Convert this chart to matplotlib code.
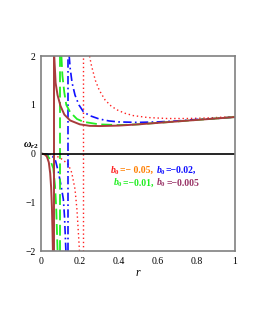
import matplotlib
matplotlib.use("Agg")
import matplotlib.pyplot as plt
from matplotlib.transforms import offset_copy

plt.rcParams["font.family"] = ["Liberation Serif", "DejaVu Serif"]
plt.rcParams["mathtext.fontset"] = "custom"
plt.rcParams["mathtext.it"] = "Liberation Serif:italic:bold"
plt.rcParams["mathtext.rm"] = "Liberation Serif:bold"

# b0 = -0.005 (solid, dark red)
r1_up = [0.068, 0.075, 0.085, 0.10, 0.12, 0.15, 0.2, 0.25, 0.3, 0.4, 0.5, 0.6, 0.7, 0.8, 0.9, 1.0]
w1_up = [2.0, 1.45, 1.2, 0.98, 0.8, 0.68, 0.6, 0.57, 0.565, 0.575, 0.6, 0.63, 0.66, 0.69, 0.72, 0.75]
r1_lo = [0, 0.01, 0.02, 0.03, 0.04, 0.047, 0.052, 0.056, 0.059, 0.061]
w1_lo = [0, -0.005, -0.02, -0.06, -0.18, -0.4, -0.7, -1.1, -1.6, -2.0]
r1_asym = 0.067

# b0 = -0.01 (dashed, green)
r2_up = [0.105, 0.11, 0.12, 0.13, 0.15, 0.185, 0.22, 0.3, 0.4, 0.5, 0.6, 0.7, 0.8, 0.9, 1.0]
w2_up = [2.0, 1.6, 1.25, 1.0, 0.85, 0.71, 0.65, 0.6, 0.585, 0.6, 0.63, 0.66, 0.69, 0.72, 0.75]
r2_lo = [0, 0.02, 0.035, 0.046, 0.063, 0.072, 0.078, 0.082, 0.085]
w2_lo = [0, -0.01, -0.05, -0.12, -0.3, -0.66, -1.1, -1.6, -2.0]
r2_asym = 0.098

# b0 = -0.02 (dash-dot, blue)
r3_up = [0.145, 0.15, 0.16, 0.175, 0.195, 0.218, 0.25, 0.3, 0.35, 0.4, 0.5, 0.6, 0.7, 0.8, 0.9, 1.0]
w3_up = [2.0, 1.75, 1.45, 1.2, 1.0, 0.86, 0.78, 0.71, 0.67, 0.65, 0.64, 0.65, 0.67, 0.70, 0.72, 0.75]
r3_lo = [0, 0.03, 0.06, 0.075, 0.09, 0.105, 0.115, 0.121, 0.125, 0.128]
w3_lo = [0, -0.01, -0.06, -0.15, -0.39, -0.7, -0.94, -1.3, -1.7, -2.0]
r3_asym = 0.137

# b0 = -0.05 (dotted, red)
r4_up = [0.25, 0.26, 0.28, 0.3, 0.33, 0.36, 0.39, 0.43, 0.475, 0.55, 0.65, 0.75, 0.85, 1.0]
w4_up = [2.0, 1.8, 1.5, 1.3, 1.1, 0.98, 0.9, 0.83, 0.78, 0.74, 0.72, 0.72, 0.73, 0.76]
r4_lo = [0, 0.04, 0.08, 0.11, 0.14, 0.158, 0.175, 0.185, 0.192, 0.198]
w4_lo = [0, -0.01, -0.05, -0.12, -0.22, -0.39, -0.73, -1.15, -1.6, -2.0]
r4_asym = 0.218

xticks = [0, 0.2, 0.4, 0.6, 0.8, 1]
xtick_labels = ["0", "0.2", "0.4", "0.6", "0.8", "1"]
yticks = [-2, -1, 0, 1, 2]

# legend text pieces (text, colour), two rows
row1 = [(r"$b_0$", "#ff2020"), ("=− 0.05, ", "#ff7f00"), (r"$b_0$", "#1010ff"), ("=−0.02,", "#1010ff")]
row2 = [(r"$b_0$", "#22ee22"), ("=−0.01, ", "#22ee22"), (r"$b_0$", "#993366"), ("=−0.005", "#993366")]

fig = plt.figure(figsize=(2.55, 3.3), dpi=100)
ax = fig.add_axes([0.161, 0.239, 0.761, 0.591])

curves = [
    (r4_up, w4_up, r4_lo, w4_lo, r4_asym, "#ff2020", (0, (1, 2)), 1.0),
    (r3_up, w3_up, r3_lo, w3_lo, r3_asym, "#1010ff", (0, (5, 2, 1, 2)), 1.2),
    (r2_up, w2_up, r2_lo, w2_lo, r2_asym, "#22ee22", (0, (6, 2.5)), 1.3),
    (r1_up, w1_up, r1_lo, w1_lo, r1_asym, "#a83c3c", "-", 1.4),
]
for ru, wu, rl, wl, ra, col, ls, lw in curves:
    ax.plot(ru, wu, color=col, ls=ls, lw=lw)
    ax.plot(rl, wl, color=col, ls=ls, lw=lw)
    ax.plot([ra, ra], [-2, 2], color=col, ls=ls, lw=lw)

ax.axhline(0, color="black", lw=1.2)
ax.set_xlim(0, 1)
ax.set_ylim(-2, 2)
ax.set_xticks(xticks)
ax.set_xticklabels(xtick_labels)
ax.set_yticks(yticks)
ax.tick_params(length=0, labelsize=7, pad=4)
for s in ax.spines.values():
    s.set_color("#808080")
    s.set_linewidth(1.2)

ax.set_xlabel("r", fontstyle="italic", fontsize=8.5, labelpad=1)
ax.text(-0.01, 0.12, r"$\omega_{r2}$", fontsize=7.5, ha="right", va="baseline", clip_on=False)

fs = 7
renderer = fig.canvas.get_renderer()
for row, (x0, y0) in [(row1, (0.356, -0.40)), (row2, (0.371, -0.66))]:
    tr = ax.transData
    for txt, col in row:
        t = ax.text(x0, y0, txt, color=col, fontsize=fs, fontweight="bold", transform=tr)
        w = t.get_window_extent(renderer=renderer).width
        tr = offset_copy(tr, fig=fig, x=w, y=0, units="dots")

fig.savefig("out.png", dpi=100)
